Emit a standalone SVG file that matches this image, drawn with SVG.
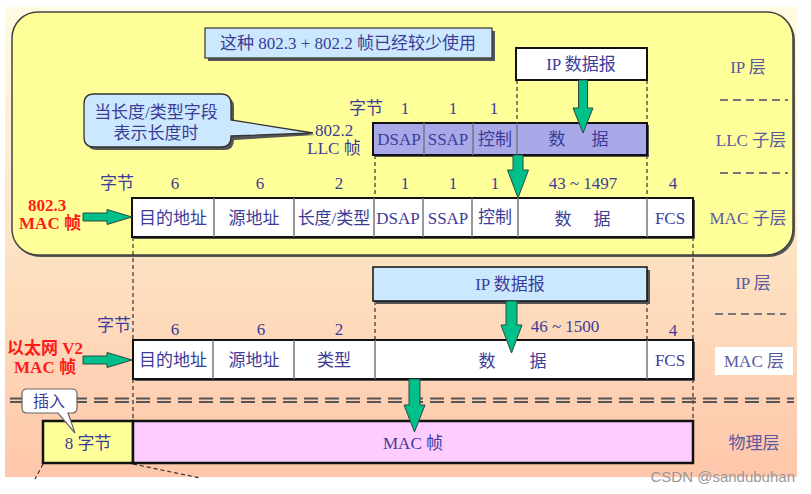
<svg xmlns="http://www.w3.org/2000/svg" width="811" height="494" viewBox="0 0 811 494">
<defs>
<linearGradient id="bg" x1="0" y1="0" x2="0" y2="1">
<stop offset="0" stop-color="#fffbe2"/>
<stop offset="0.5" stop-color="#fde4c4"/>
<stop offset="1" stop-color="#ffc6aa"/>
</linearGradient>
<style>
.t{font-family:"Liberation Serif","Noto Sans CJK SC",serif;font-size:17px;fill:#3c3c98;text-anchor:middle;dominant-baseline:central}
.s{fill:#5a5aa0}
.r{font-family:"Liberation Serif","Noto Sans CJK SC",serif;font-size:17px;font-weight:bold;fill:#ff1a1a;text-anchor:middle;dominant-baseline:central}
.box{stroke:#111;stroke-width:2}
.div{stroke:#777;stroke-width:1.5}
.sh{fill:#555}
.dash{stroke:#333;stroke-width:1.2;stroke-dasharray:4 3;fill:none}
.arr{fill:#00c08a;stroke:#2a4a40;stroke-width:1}
</style>
</defs>
<rect x="0" y="0" width="811" height="494" fill="#fff"/>
<rect x="5" y="7" width="792" height="470" fill="url(#bg)"/>
<rect x="14" y="14" width="781" height="243" rx="26" fill="#555"/>
<rect x="12" y="12" width="781" height="243" rx="26" fill="#ffff99" stroke="#444" stroke-width="1.5"/>

<!-- right side layer labels -->
<g id="layers">
<text class="t s" x="748" y="67">IP 层</text>
<line x1="720" y1="100" x2="788" y2="100" stroke="#777" stroke-width="2" stroke-dasharray="8 5"/>
<text class="t s" x="751" y="140">LLC 子层</text>
<line x1="720" y1="173" x2="788" y2="173" stroke="#777" stroke-width="2" stroke-dasharray="8 5"/>
<text class="t s" x="748" y="218">MAC 子层</text>
<text class="t s" x="753" y="283">IP 层</text>
<line x1="715" y1="314" x2="786" y2="314" stroke="#777" stroke-width="2" stroke-dasharray="8 5"/>
<rect x="715" y="347" width="78" height="28" fill="#fff"/>
<text class="t s" x="754" y="361">MAC 层</text>
<text class="t s" x="754" y="443">物理层</text>
</g>

<!-- banner -->
<g id="banner">
<rect x="208" y="31" width="287" height="30" class="sh"/>
<rect x="205" y="28" width="287" height="30" fill="#cce8ff" stroke="#333" stroke-width="1.2"/>
<text class="t" x="348" y="43">这种 802.3 + 802.2 帧已经较少使用</text>
</g>

<!-- connectors -->
<g id="connectors">
<line class="dash" x1="517" y1="80" x2="517" y2="123"/>
<line class="dash" x1="647" y1="80" x2="647" y2="123"/>
<line class="dash" x1="375" y1="155" x2="375" y2="198"/>
<line class="dash" x1="647" y1="155" x2="647" y2="198"/>
<line class="dash" x1="133" y1="237" x2="133" y2="340"/>
<line class="dash" x1="693" y1="237" x2="693" y2="340"/>
<line class="dash" x1="375" y1="301" x2="375" y2="340"/>
<line class="dash" x1="647" y1="301" x2="647" y2="340"/>
<line class="dash" x1="133" y1="379" x2="133" y2="421"/>
<line class="dash" x1="693" y1="379" x2="693" y2="421"/>
<line class="dash" x1="43" y1="464" x2="35" y2="479"/>
<line class="dash" x1="133" y1="464" x2="200" y2="478"/>
<line x1="10" y1="398.5" x2="794" y2="398.5" stroke="#555" stroke-width="1.8" stroke-dasharray="14 7"/>
<line x1="10" y1="402" x2="794" y2="402" stroke="#555" stroke-width="1.8" stroke-dasharray="14 7"/>
</g>

<!-- callout -->
<g id="callout-length">
<path d="M97,97 H224 Q234,97 234,107 V122 L315,135 L234,140 Q234,150 224,150 H97 Q87,150 87,140 V107 Q87,97 97,97 Z" fill="#555"/>
<path d="M94,94 H221 Q231,94 231,104 V120 L313,133 L231,136 V137 Q231,147 221,147 H94 Q84,147 84,137 V104 Q84,94 94,94 Z" fill="#cce8ff" stroke="#333" stroke-width="1.3"/>
<text class="t" x="156" y="112">当长度/类型字段</text>
<text class="t" x="156" y="133">表示长度时</text>
</g>

<!-- top IP datagram -->
<g id="ip-top">
<rect x="516" y="48" width="131" height="32" fill="#fff" stroke="#111" stroke-width="2"/>
<text class="t" x="581" y="64">IP 数据报</text>
</g>

<!-- LLC frame -->
<g id="llc-frame">
<text class="t" x="334" y="130">802.2</text>
<text class="t" x="334" y="148">LLC 帧</text>
<text class="t" x="366" y="108">字节</text>
<text class="t" x="405" y="108">1</text>
<text class="t" x="453" y="108">1</text>
<text class="t" x="494" y="108">1</text>
<rect x="375" y="125" width="274" height="32" class="sh"/>
<rect x="373" y="123" width="274" height="32" fill="#a9a9ea" class="box"/>
<line class="div" x1="424" y1="123" x2="424" y2="155" stroke="#333"/>
<line class="div" x1="473" y1="123" x2="473" y2="155"/>
<line class="div" x1="517" y1="123" x2="517" y2="155" stroke="#333"/>
<text class="t" x="399" y="139">DSAP</text>
<text class="t" x="448" y="139">SSAP</text>
<text class="t" x="495" y="139">控制</text>
<text class="t" x="557" y="139">数</text>
<text class="t" x="600" y="139">据</text>
</g>

<!-- 802.3 MAC frame -->
<g id="mac-8023">
<text class="r" x="47" y="205">802.3</text>
<text class="r" x="50" y="223">MAC 帧</text>
<text class="t" x="117" y="183">字节</text>
<text class="t" x="175" y="183">6</text>
<text class="t" x="260" y="183">6</text>
<text class="t" x="339" y="183">2</text>
<text class="t" x="405" y="183">1</text>
<text class="t" x="453" y="183">1</text>
<text class="t" x="495" y="183">1</text>
<text class="t" x="583" y="183">43 ~ 1497</text>
<text class="t" x="673" y="183">4</text>
<rect x="134" y="200" width="561" height="39" class="sh"/>
<rect x="132" y="198" width="561" height="39" fill="#fff" class="box"/>
<line class="div" x1="214" y1="198" x2="214" y2="237"/>
<line class="div" x1="294" y1="198" x2="294" y2="237"/>
<line class="div" x1="374" y1="198" x2="374" y2="237"/>
<line class="div" x1="423" y1="198" x2="423" y2="237"/>
<line class="div" x1="472" y1="198" x2="472" y2="237"/>
<line class="div" x1="518" y1="198" x2="518" y2="237"/>
<line class="div" x1="647" y1="198" x2="647" y2="237"/>
<text class="t" x="173" y="218">目的地址</text>
<text class="t" x="254" y="218">源地址</text>
<text class="t" x="334" y="218">长度/类型</text>
<text class="t" x="398" y="218">DSAP</text>
<text class="t" x="448" y="218">SSAP</text>
<text class="t" x="495" y="217">控制</text>
<text class="t" x="563" y="219">数</text>
<text class="t" x="602" y="219">据</text>
<text class="t" x="670" y="218">FCS</text>
</g>

<!-- lower IP datagram -->
<g id="ip-bottom">
<rect x="376" y="270" width="274" height="34" class="sh"/>
<rect x="373" y="267" width="274" height="34" fill="#cce8ff" stroke="#111" stroke-width="1.5"/>
<text class="t" x="510" y="284">IP 数据报</text>
</g>

<!-- Ethernet V2 frame -->
<g id="mac-ethv2">
<text class="r" x="45" y="348">以太网 V2</text>
<text class="r" x="45" y="367">MAC 帧</text>
<text class="t" x="114" y="325">字节</text>
<text class="t" x="175" y="329">6</text>
<text class="t" x="261" y="329">6</text>
<text class="t" x="339" y="329">2</text>
<text class="t" x="565" y="326">46 ~ 1500</text>
<text class="t" x="673" y="330">4</text>
<rect x="135" y="342" width="560" height="39" class="sh"/>
<rect x="133" y="340" width="560" height="39" fill="#fff" class="box"/>
<line class="div" x1="213" y1="340" x2="213" y2="379"/>
<line class="div" x1="294" y1="340" x2="294" y2="379"/>
<line class="div" x1="375" y1="340" x2="375" y2="379"/>
<line class="div" x1="647" y1="340" x2="647" y2="379"/>
<text class="t" x="173" y="360">目的地址</text>
<text class="t" x="254" y="360">源地址</text>
<text class="t" x="334" y="360">类型</text>
<text class="t" x="487" y="361">数</text>
<text class="t" x="538" y="361">据</text>
<text class="t" x="670" y="360">FCS</text>
</g>

<!-- physical layer frame -->
<g id="phy-frame">
<rect x="43" y="421" width="90" height="42" fill="#ffff99" stroke="#111" stroke-width="2.5"/>
<rect x="133" y="421" width="560" height="42" fill="#ffccff" stroke="#111" stroke-width="2.5"/>
<text class="t" x="88" y="443">8 字节</text>
<text class="t" x="413" y="443">MAC 帧</text>
</g>

<!-- arrows -->
<g id="arrows">
<polygon class="arr" points="578.5,80 587.5,80 587.5,108 593,108 583,133 573,108 578.5,108"/>
<polygon class="arr" points="513,155 523,155 523,170 528.5,170 518,198 507.5,170 513,170"/>
<polygon class="arr" points="506,301 517,301 517,325 522,325 511.5,353 501,325 506,325"/>
<polygon class="arr" points="409,379 420,379 420,405 425,405 414.5,432 404,405 409,405"/>
<polygon class="arr" points="83,213 107,213 107,209.5 132,217 107,224.5 107,221 83,221"/>
<polygon class="arr" points="83,356 107,356 107,352.5 132,360 107,367.5 107,364 83,364"/>
</g>

<!-- insert callout -->
<g id="callout-insert">
<path d="M27,389 H72 Q77,389 77,394 V408 Q77,413 72,413 H68 L75,433 L58,413 H27 Q22,413 22,408 V394 Q22,389 27,389 Z" fill="#fff" stroke="#666" stroke-width="1.2"/>
<text class="t" x="49" y="401" style="font-size:16px">插入</text>
</g>

<text x="795" y="482" style="font-family:'Liberation Sans',sans-serif;font-size:15px;fill:#999;text-anchor:end">CSDN @sandubuhan</text>
</svg>
